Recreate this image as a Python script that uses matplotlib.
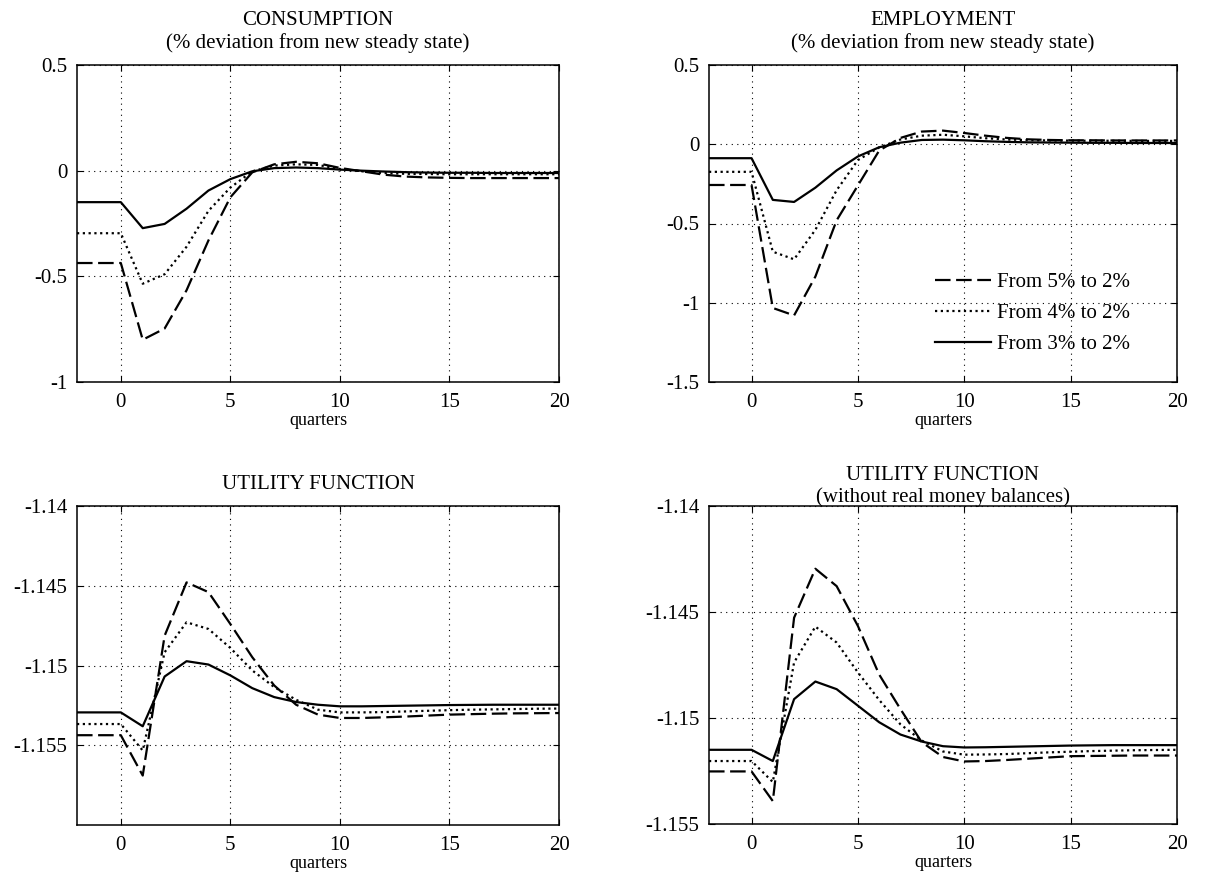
import matplotlib
matplotlib.use("Agg")
import matplotlib.pyplot as plt
from matplotlib.ticker import FormatStrFormatter

plt.rcParams['font.family'] = ['Liberation Serif', 'DejaVu Serif']
plt.rcParams['axes.unicode_minus'] = False
plt.rcParams['font.size'] = 15

# quarters
quarters = list(range(-2, 21))

labels = ['From 5% to 2%', 'From 4% to 2%', 'From 3% to 2%']

# consumption (% deviation from new steady state)
cons_5 = [-0.437, -0.437, -0.437, -0.80, -0.747, -0.566, -0.33, -0.126, -0.008, 0.03, 0.042, 0.035,
          0.013, -0.003, -0.019, -0.028, -0.032, -0.034, -0.035, -0.035, -0.035, -0.035, -0.035]
cons_4 = [-0.296, -0.296, -0.296, -0.535, -0.49, -0.36, -0.19, -0.08, -0.003, 0.024, 0.03, 0.027,
          0.008, -0.003, -0.011, -0.015, -0.016, -0.017, -0.017, -0.017, -0.017, -0.017, -0.017]
cons_3 = [-0.149, -0.149, -0.149, -0.272, -0.252, -0.18, -0.094, -0.04, -0.003, 0.012, 0.015, 0.012,
          0.005, 0.0, -0.004, -0.007, -0.009, -0.01, -0.01, -0.011, -0.011, -0.011, -0.011]

# employment (% deviation from new steady state)
emp_5 = [-0.257, -0.257, -0.257, -1.033, -1.08, -0.835, -0.48, -0.26, -0.04, 0.04, 0.08, 0.086,
         0.071, 0.054, 0.04, 0.031, 0.027, 0.025, 0.025, 0.024, 0.024, 0.024, 0.024]
emp_4 = [-0.174, -0.174, -0.174, -0.678, -0.726, -0.54, -0.29, -0.10, -0.02, 0.03, 0.054, 0.06,
         0.05, 0.038, 0.03, 0.026, 0.024, 0.023, 0.022, 0.022, 0.021, 0.021, 0.021]
emp_3 = [-0.088, -0.088, -0.088, -0.351, -0.364, -0.274, -0.165, -0.077, -0.019, 0.01, 0.027, 0.029,
         0.025, 0.019, 0.015, 0.012, 0.011, 0.01, 0.009, 0.009, 0.008, 0.008, 0.008]

# utility function
util_5 = [-1.15437, -1.15437, -1.15437, -1.1569, -1.14813, -1.14479, -1.1454, -1.1474, -1.14948,
          -1.15125, -1.15246, -1.15308, -1.15329, -1.15329, -1.15325, -1.1532, -1.15314, -1.15308,
          -1.15305, -1.15302, -1.153, -1.15299, -1.15298]
util_4 = [-1.15367, -1.15367, -1.15367, -1.15533, -1.14917, -1.14729, -1.14771, -1.1489, -1.15031,
          -1.15135, -1.15215, -1.15277, -1.15294, -1.15294, -1.15292, -1.15288, -1.15284, -1.1528,
          -1.15277, -1.15275, -1.15273, -1.15271, -1.1527]
util_3 = [-1.15294, -1.15294, -1.15294, -1.15381, -1.15069, -1.14973, -1.14994, -1.15062, -1.15142,
          -1.15198, -1.15229, -1.15246, -1.15256, -1.15256, -1.15254, -1.15252, -1.1525, -1.15248,
          -1.15247, -1.15246, -1.15246, -1.15246, -1.15246]

# utility function without real money balances
util_nm_5 = [-1.15252, -1.15252, -1.15252, -1.15392, -1.14527, -1.14296, -1.14378, -1.14566, -1.14795,
             -1.14958, -1.15114, -1.15184, -1.15205, -1.15203, -1.15198, -1.15192, -1.15186, -1.1518,
             -1.15179, -1.15178, -1.15177, -1.15177, -1.15177]
util_nm_4 = [-1.15203, -1.15203, -1.15203, -1.15302, -1.14738, -1.14569, -1.14644, -1.14785, -1.14915,
             -1.1503, -1.15106, -1.15158, -1.15173, -1.15172, -1.1517, -1.15166, -1.15162, -1.15159,
             -1.15156, -1.15154, -1.15152, -1.15151, -1.1515]
util_nm_3 = [-1.1515, -1.1515, -1.1515, -1.15203, -1.14911, -1.14828, -1.14864, -1.14942, -1.1502,
             -1.15078, -1.15111, -1.15133, -1.15139, -1.15138, -1.15136, -1.15134, -1.15132, -1.1513,
             -1.15129, -1.15128, -1.15128, -1.15128, -1.15128]

x_ticks = [0, 5, 10, 15, 20]

W, H = 1218, 882
fig = plt.figure(figsize=(W / 100, H / 100), dpi=100)


def make_axes(left, top, right, bottom):
    return fig.add_axes([left / W, 1 - bottom / H, (right - left) / W, (bottom - top) / H])


def style_axes(ax, ylim, yticks):
    ax.set_xlim(-2, 20)
    ax.set_ylim(*ylim)
    ax.set_xticks(x_ticks)
    ax.set_yticks(yticks)
    ax.yaxis.set_major_formatter(FormatStrFormatter('%g'))
    ax.grid(True, color='black', linestyle=(0, (1, 4)), linewidth=0.8)
    ax.tick_params(direction='in', top=True, right=True, length=4, width=0.8, labelsize=15)
    ax.tick_params(axis='x', pad=8)
    ax.tick_params(axis='y', pad=7)
    for s in ax.spines.values():
        s.set_linewidth(1.1)
    ax.set_xlabel('quarters', fontsize=13, labelpad=0)


def draw(ax, s5, s4, s3):
    ax.plot(quarters, s5, color='black', linewidth=1.6, dashes=(7, 2.5), label=labels[0])
    ax.plot(quarters, s4, color='black', linewidth=1.6, dashes=(1, 1.6), label=labels[1])
    ax.plot(quarters, s3, color='black', linewidth=1.6, label=labels[2])


ax1 = make_axes(77, 65, 559, 382)
draw(ax1, cons_5, cons_4, cons_3)
style_axes(ax1, (-1, 0.5), [-1, -0.5, 0, 0.5])
ax1.set_title('CONSUMPTION\n(% deviation from new steady state)', fontsize=15, linespacing=1.25, pad=12)

ax2 = make_axes(709, 65, 1177, 382)
draw(ax2, emp_5, emp_4, emp_3)
style_axes(ax2, (-1.5, 0.5), [-1.5, -1, -0.5, 0, 0.5])
ax2.set_title('EMPLOYMENT\n(% deviation from new steady state)', fontsize=15, linespacing=1.25, pad=12)
ax2.legend(loc='lower right', bbox_to_anchor=(0.94, 0.028), frameon=False, fontsize=15,
           handlelength=2.7, handletextpad=0.3, labelspacing=0.55)

ax3 = make_axes(77, 506, 559, 825)
draw(ax3, util_5, util_4, util_3)
style_axes(ax3, (-1.16, -1.14), [-1.155, -1.15, -1.145, -1.14])
ax3.set_title('UTILITY FUNCTION', fontsize=15, pad=12)

ax4 = make_axes(709, 506, 1177, 824)
draw(ax4, util_nm_5, util_nm_4, util_nm_3)
style_axes(ax4, (-1.155, -1.14), [-1.155, -1.15, -1.145, -1.14])
ax4.set_title('UTILITY FUNCTION\n(without real money balances)', fontsize=15, linespacing=1.15, pad=3)

fig.savefig('out.png', dpi=100)
